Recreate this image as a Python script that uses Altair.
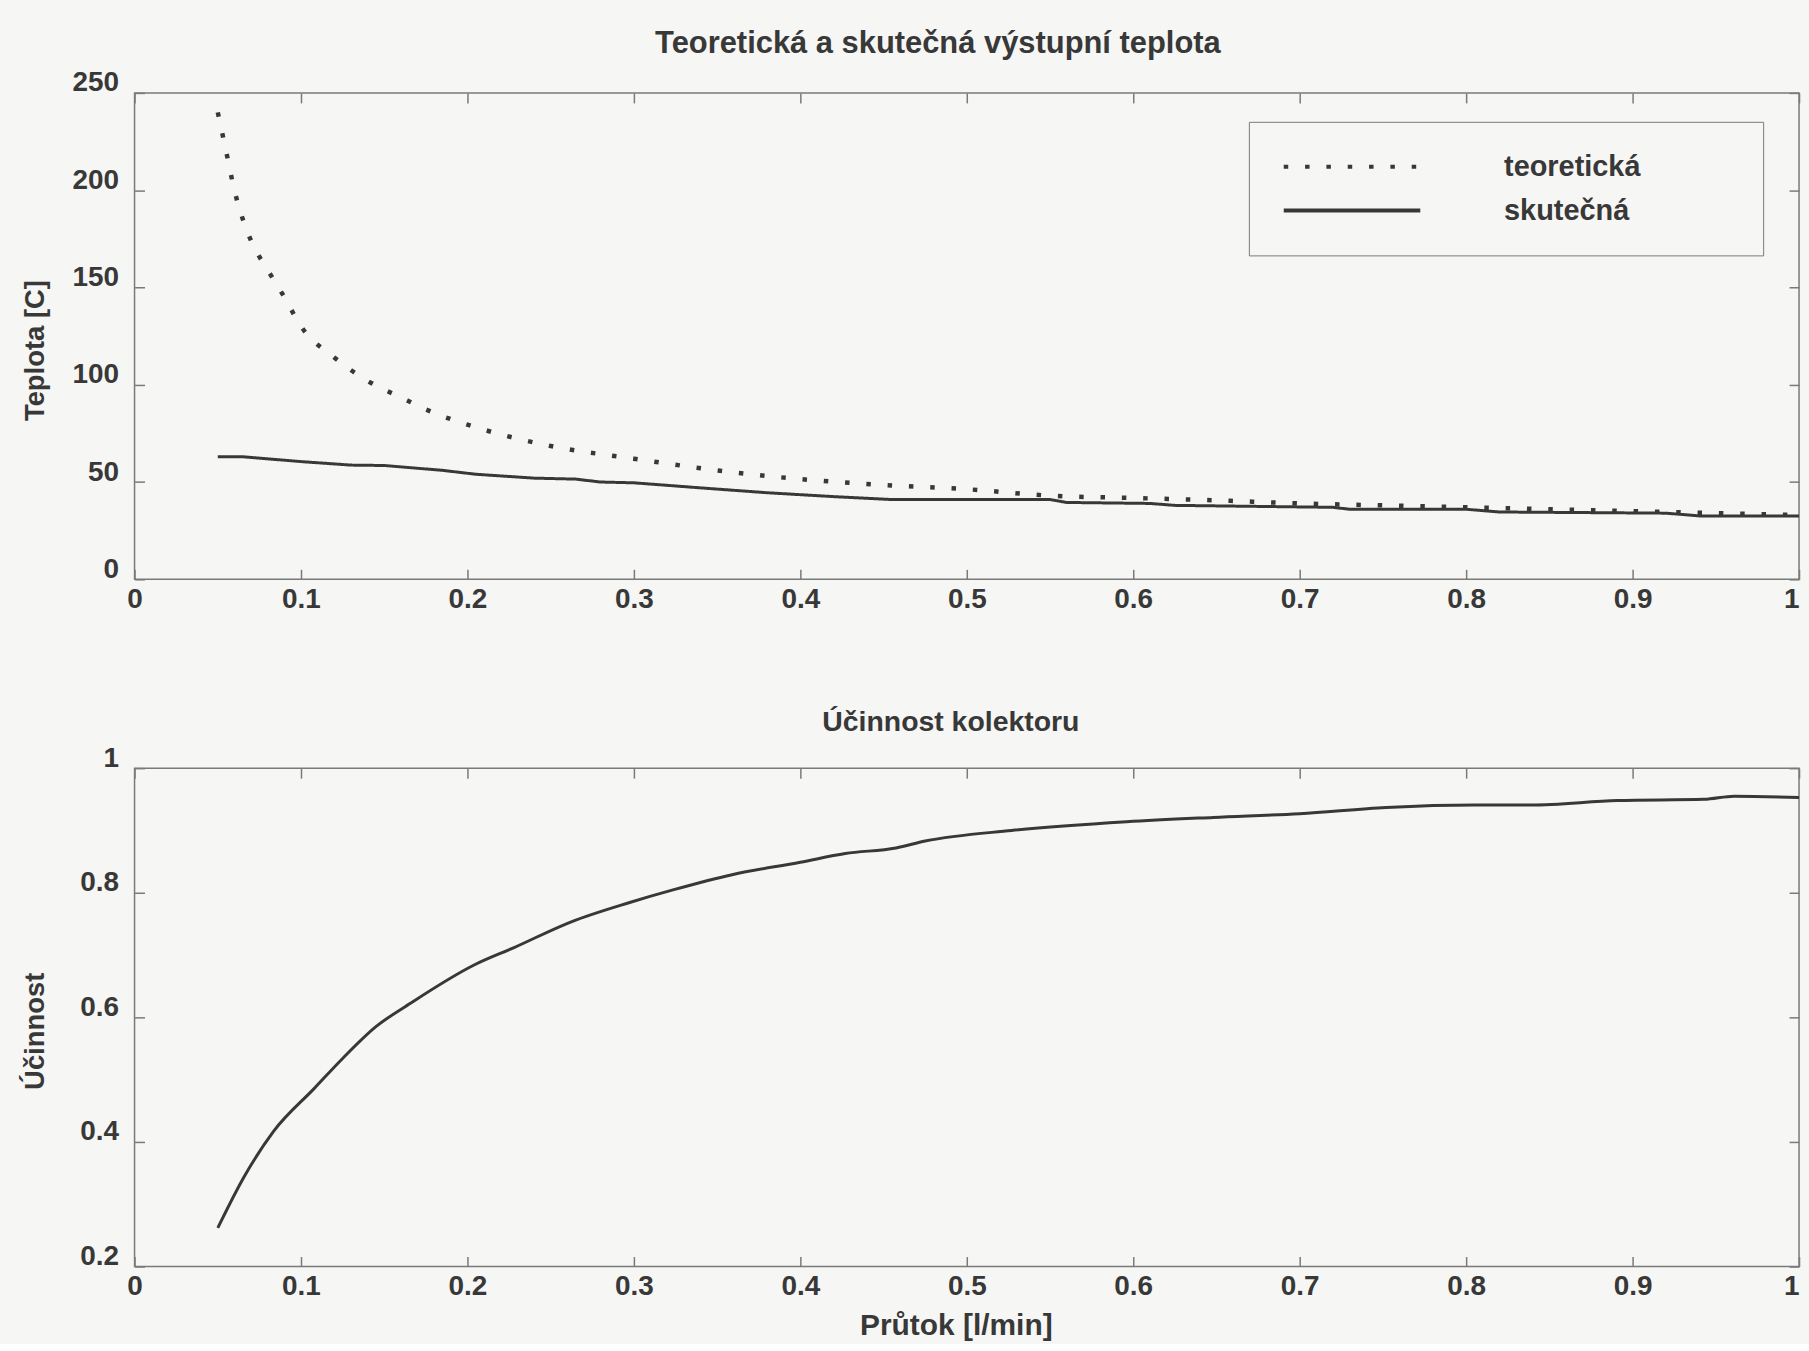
import altair as alt
import pandas as pd

# ---------------- data ----------------
series_names = ["teoretická", "skutečná"]

x_teo = [0.05, 0.055, 0.06, 0.07, 0.08, 0.09, 0.10, 0.12, 0.14, 0.16, 0.18, 0.20,
         0.25, 0.30, 0.35, 0.40, 0.45, 0.50, 0.55, 0.60, 0.65, 0.70, 0.75, 0.80,
         0.85, 0.90, 0.95, 1.00]
t_teo = [240, 220, 200, 174, 159, 145, 130, 114, 102, 93.5, 85.5, 79.5,
         68.5, 62, 56, 51.5, 48.5, 46.3, 43, 41.8, 40.6, 39, 38, 37,
         36, 35, 34, 33]

x_real = [0.05, 0.065, 0.10, 0.13, 0.15, 0.185, 0.205, 0.24, 0.265, 0.28, 0.30,
          0.34, 0.38, 0.42, 0.455, 0.55, 0.56, 0.61, 0.625, 0.72, 0.73, 0.80,
          0.82, 0.92, 0.94, 1.00]
t_real = [63, 63, 60.5, 58.7, 58.5, 56, 54, 52, 51.5, 50, 49.6,
          47, 44.5, 42.5, 41, 41, 39.5, 39, 38, 37, 36, 36,
          34.6, 34, 32.6, 32.6]

x_eta = [0.05, 0.066, 0.0835, 0.108, 0.125, 0.145, 0.166, 0.204, 0.228, 0.262,
         0.297, 0.324, 0.359, 0.40, 0.427, 0.4575, 0.475, 0.527, 0.596, 0.648,
         0.70, 0.752, 0.805, 0.839, 0.891, 0.943, 0.961, 1.0]
eta = [0.262, 0.345, 0.417, 0.486, 0.534, 0.585, 0.623, 0.684, 0.712, 0.753,
       0.784, 0.805, 0.829, 0.849, 0.863, 0.872, 0.883, 0.900, 0.914, 0.921,
       0.927, 0.937, 0.941, 0.941, 0.948, 0.950, 0.955, 0.953]

x_ticks = [0, 0.1, 0.2, 0.3, 0.4, 0.5, 0.6, 0.7, 0.8, 0.9, 1]
t_ticks = [0, 50, 100, 150, 200, 250]
eta_ticks = [0.2, 0.4, 0.6, 0.8, 1]

title_top = "Teoretická a skutečná výstupní teplota"
title_bottom = "Účinnost kolektoru"
ytitle_top = "Teplota [C]"
ytitle_bottom = "Účinnost"
xtitle = "Průtok [l/min]"

# ---------------- styling ----------------
FONT = "Liberation Sans"
WEIGHT = "bold"
INK = "#383838"
FRAME = "#7a7a7a"
BG = "#f6f6f4"
W = 1670
H1 = 488
H2 = 500

df_teo = pd.DataFrame({"x": x_teo, "T": t_teo, "series": series_names[0]})
df_real = pd.DataFrame({"x": x_real, "T": t_real, "series": series_names[1]})
df_eta = pd.DataFrame({"x": x_eta, "eta": eta})

xscale = alt.Scale(domain=[0, 1], nice=False, zero=False)
tscale = alt.Scale(domain=[0, 250], nice=False)
escale = alt.Scale(domain=[0.2, 1], nice=False, zero=False)
dash_scale = alt.Scale(domain=series_names, range=[[4.5, 16.9], [1, 0]])

label_common = dict(labelFont=FONT, labelFontSize=28, labelFontWeight=WEIGHT,
                    labelColor=INK, labelFlush=False, labelOverlap=False,
                    labelBound=False, labelExpr="toString(datum.value)")
tick_common = dict(offset=-10, tickSize=10, tickWidth=1.5, tickColor=FRAME,
                   domain=False, grid=False)


def x_label_axis(title=None, **kw):
    return alt.Axis(orient="bottom", values=x_ticks,
                    labelPadding=6,
                    labelAlign={"condition": {"test": "datum.value == 1", "value": "right"},
                                "value": "center"},
                    title=title, **label_common, **tick_common, **kw)


def y_label_axis(values, title, title_y):
    return alt.Axis(orient="left", values=values,
                    labelPadding=16, labelOffset=-10, labelAlign="right",
                    title=title, titleFont=FONT, titleFontSize=27.5,
                    titleFontWeight=WEIGHT, titleColor=INK, titleAngle=270,
                    titleBaseline="alphabetic", titleAlign="center",
                    titleX=-101, titleY=title_y,
                    **label_common, **tick_common)


def tick_axis(orient, values):
    return alt.Axis(orient=orient, values=values, labels=False, title=None,
                    **tick_common)


legend_spec = alt.Legend(
    orient="none", legendX=1118, legendY=29,
    title="\u00a0", titleOrient="right", titlePadding=100, titleFontSize=29,
    symbolType="stroke", symbolSize=18769, symbolStrokeWidth=4,
    symbolStrokeColor=INK, symbolOffset=10, clipHeight=44, labelOffset=82,
    labelFont=FONT, labelFontSize=29, labelFontWeight=WEIGHT, labelColor=INK,
    padding=23, strokeColor=FRAME, fillColor=BG, rowPadding=0,
)

# ---------------- top panel ----------------
teo_line = alt.Chart(df_teo).mark_line(
    strokeWidth=4.5, color=INK, interpolate="monotone", strokeCap="butt"
).encode(
    x=alt.X("x:Q", scale=xscale, axis=x_label_axis()),
    y=alt.Y("T:Q", scale=tscale, axis=y_label_axis(t_ticks, ytitle_top, 258)),
    strokeDash=alt.StrokeDash("series:N", scale=dash_scale, legend=legend_spec),
)

real_line = alt.Chart(df_real).mark_line(strokeWidth=3, color=INK).encode(
    x=alt.X("x:Q", scale=xscale, axis=tick_axis("top", x_ticks)),
    y=alt.Y("T:Q", scale=tscale, axis=tick_axis("right", t_ticks)),
    strokeDash=alt.StrokeDash("series:N", scale=dash_scale, legend=legend_spec),
)

top = alt.layer(teo_line, real_line).resolve_axis(
    x="independent", y="independent"
).properties(
    width=W, height=H1,
    title=alt.TitleParams(text=title_top, font=FONT, fontSize=31,
                          fontWeight=WEIGHT, color=INK, anchor="middle",
                          frame="group", baseline="alphabetic", offset=-15, dx=-29),
)

# ---------------- bottom panel ----------------
eta_line = alt.Chart(df_eta).mark_line(
    strokeWidth=3, color=INK, interpolate="monotone"
).encode(
    x=alt.X("x:Q", scale=xscale,
            axis=x_label_axis(title=xtitle, titleFont=FONT, titleFontSize=30,
                              titleFontWeight=WEIGHT, titleColor=INK,
                              titleBaseline="alphabetic", titleAlign="center",
                              titleX=824, titleY=78.5)),
    y=alt.Y("eta:Q", scale=escale, axis=y_label_axis(eta_ticks, ytitle_bottom, 263.5)),
)

eta_ghost = alt.Chart(df_eta).mark_line(strokeWidth=3, strokeOpacity=0).encode(
    x=alt.X("x:Q", scale=xscale, axis=tick_axis("top", x_ticks)),
    y=alt.Y("eta:Q", scale=escale, axis=tick_axis("right", eta_ticks)),
)

bottom = alt.layer(eta_line, eta_ghost).resolve_axis(
    x="independent", y="independent"
).properties(
    width=W, height=H2,
    title=alt.TitleParams(text=title_bottom, font=FONT, fontSize=28.5,
                          fontWeight=WEIGHT, color=INK, anchor="middle",
                          frame="group", baseline="alphabetic", offset=-15.5, dx=-16),
)

chart = alt.vconcat(top, bottom, spacing=189.5, bounds="flush").properties(
    padding={"left": 21, "top": 25, "right": 0, "bottom": 0},
    background=BG,
).configure_view(stroke=FRAME, strokeWidth=1.5)

chart.save("out.html", embed_options={"renderer": "svg", "actions": False})
